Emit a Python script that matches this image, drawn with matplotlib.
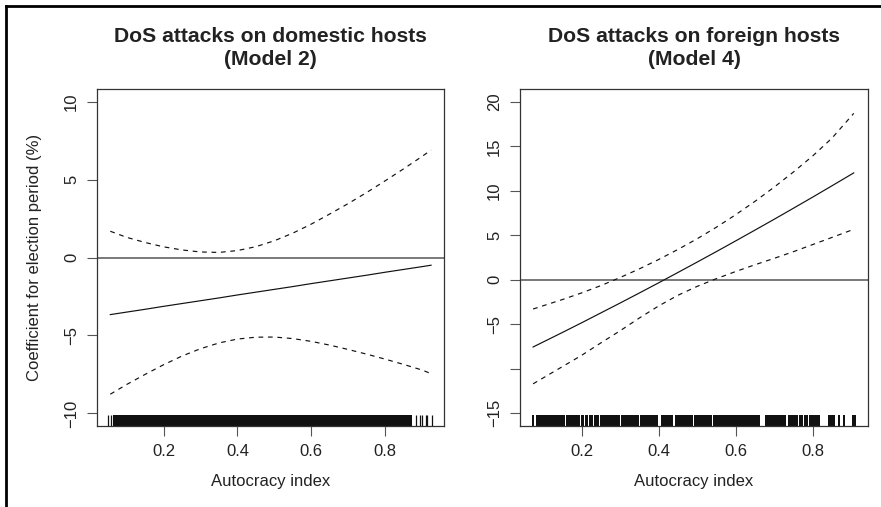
import matplotlib
matplotlib.use("Agg")
import matplotlib.pyplot as plt
from matplotlib.lines import Line2D

plt.rcParams['font.family'] = ['Liberation Sans', 'DejaVu Sans']

# left panel: DoS attacks on domestic hosts (Model 2)
dom_x = [0.056, 0.10, 0.15, 0.20, 0.25, 0.30, 0.35, 0.40, 0.45, 0.50,
         0.55, 0.60, 0.65, 0.70, 0.75, 0.80, 0.85, 0.90, 0.924]
dom_coef = [-3.66, -3.50, -3.32, -3.13, -2.95, -2.77, -2.59, -2.40, -2.22, -2.04,
            -1.86, -1.67, -1.49, -1.31, -1.13, -0.94, -0.76, -0.58, -0.49]
dom_upper = [1.69, 1.30, 0.97, 0.69, 0.49, 0.36, 0.33, 0.45, 0.70, 1.08,
             1.57, 2.15, 2.80, 3.47, 4.18, 4.93, 5.70, 6.50, 6.90]
dom_lower = [-8.77, -8.15, -7.50, -6.88, -6.32, -5.85, -5.48, -5.23, -5.11, -5.10,
             -5.20, -5.38, -5.62, -5.90, -6.20, -6.52, -6.86, -7.22, -7.45]
dom_rug_spans = [(0.062, 0.873)]
dom_rug_ticks = [0.051, 0.057, 0.882, 0.893, 0.899, 0.910, 0.914, 0.926]
dom_yticks = [-10, -5, 0, 5, 10]
dom_yticklabels = ['\u221210', '\u22125', '0', '5', '10']

# right panel: DoS attacks on foreign hosts (Model 4)
for_x = [0.074, 0.15, 0.20, 0.25, 0.30, 0.35, 0.40, 0.45, 0.50,
         0.55, 0.60, 0.65, 0.70, 0.75, 0.80, 0.85, 0.907]
for_coef = [-7.56, -5.93, -4.84, -3.73, -2.62, -1.49, -0.35, 0.81, 1.98,
            3.16, 4.36, 5.57, 6.79, 8.03, 9.28, 10.55, 12.01]
for_upper = [-3.29, -2.23, -1.48, -0.66, 0.25, 1.22, 2.27, 3.40, 4.60,
             5.90, 7.30, 8.80, 10.40, 12.10, 13.90, 15.90, 18.70]
for_lower = [-11.70, -9.77, -8.50, -7.10, -5.74, -4.30, -2.95, -1.75, -0.75,
             0.12, 0.92, 1.68, 2.40, 3.15, 3.95, 4.75, 5.67]
for_rug_spans = [(0.070, 0.076), (0.082, 0.120), (0.1215, 0.158), (0.1595, 0.196),
                 (0.199, 0.205), (0.208, 0.217), (0.220, 0.229), (0.232, 0.244),
                 (0.247, 0.300), (0.3015, 0.350), (0.3515, 0.399), (0.405, 0.438),
                 (0.442, 0.490), (0.4915, 0.538), (0.542, 0.600), (0.6015, 0.663),
                 (0.676, 0.732), (0.737, 0.763), (0.766, 0.776), (0.779, 0.789),
                 (0.792, 0.819), (0.841, 0.858), (0.866, 0.871), (0.878, 0.884),
                 (0.903, 0.912)]
for_rug_ticks = []
for_yticks = [-15, -10, -5, 0, 5, 10, 15, 20]
for_yticklabels = ['\u221215', '', '\u22125', '0', '5', '10', '15', '20']

xticks = [0.2, 0.4, 0.6, 0.8]
xticklabels = ['0.2', '0.4', '0.6', '0.8']

W, H = 881, 507
fig = plt.figure(figsize=(W / 100, H / 100), dpi=100)


def px_box(x0, y0, x1, y1):
    return [x0 / W, 1 - y1 / H, (x1 - x0) / W, (y1 - y0) / H]


def panel(ax, x, coef, upper, lower, spans, ticks, xlim, ylim, yticks, yticklabels):
    ax.axhline(0, color='#555555', lw=1.1, zorder=1)
    ax.plot(x, coef, color='#111111', lw=0.85, zorder=3)
    ax.plot(x, upper, color='#111111', lw=0.85, ls=(0, (4, 4)), zorder=3)
    ax.plot(x, lower, color='#111111', lw=0.85, ls=(0, (4, 4)), zorder=3)
    # rug along the bottom
    tr = ax.get_xaxis_transform()
    ax.broken_barh([(a, b - a) for a, b in spans], (0, 0.032),
                   transform=tr, facecolor='#111111', edgecolor='none', zorder=2)
    if ticks:
        ax.vlines(ticks, 0, 0.032, transform=tr, color='#111111', lw=0.9, zorder=2)
    ax.set_xlim(*xlim)
    ax.set_ylim(*ylim)
    ax.set_xticks(xticks)
    ax.set_xticklabels(xticklabels)
    ax.set_yticks(yticks)
    ax.set_yticklabels(yticklabels, rotation=90, va='center')
    ax.tick_params(length=7, width=0.8, color='#555555', labelsize=12,
                   labelcolor='#222222', pad=6)
    for s in ax.spines.values():
        s.set_color('#333333')
        s.set_linewidth(0.9)
    ax.set_xlabel('Autocracy index', fontsize=12, color='#222222', labelpad=11)


ax1 = fig.add_axes(px_box(97, 89, 444, 426))
panel(ax1, dom_x, dom_coef, dom_upper, dom_lower, dom_rug_spans, dom_rug_ticks,
      (0.020, 0.959), (-10.81, 10.82), dom_yticks, dom_yticklabels)

ax2 = fig.add_axes(px_box(520, 89, 868, 426))
panel(ax2, for_x, for_coef, for_upper, for_lower, for_rug_spans, for_rug_ticks,
      (0.040, 0.944), (-16.44, 21.44), for_yticks, for_yticklabels)

fig.text(35 / W, 1 - 257.5 / H, 'Coefficient for election period (%)', rotation=90,
         ha='center', va='center', fontsize=12, color='#222222')

titles = [("DoS attacks on domestic hosts", "(Model 2)", 270.5),
          ("DoS attacks on foreign hosts", "(Model 4)", 694)]
for line1, line2, cx in titles:
    fig.text(cx / W, 1 - 41.7 / H, line1, ha='center', va='baseline',
             fontsize=15.2, fontweight='bold', color='#222222')
    fig.text(cx / W, 1 - 65 / H, line2, ha='center', va='baseline',
             fontsize=15.2, fontweight='bold', color='#222222')

# page frame lines (top and left)
fig.add_artist(Line2D([6 / W, 1], [1 - 5.5 / H, 1 - 5.5 / H], color='black', lw=2))
fig.add_artist(Line2D([6 / W, 6 / W], [0, 1 - 5.5 / H], color='black', lw=2))

fig.savefig('out.png', dpi=100)
